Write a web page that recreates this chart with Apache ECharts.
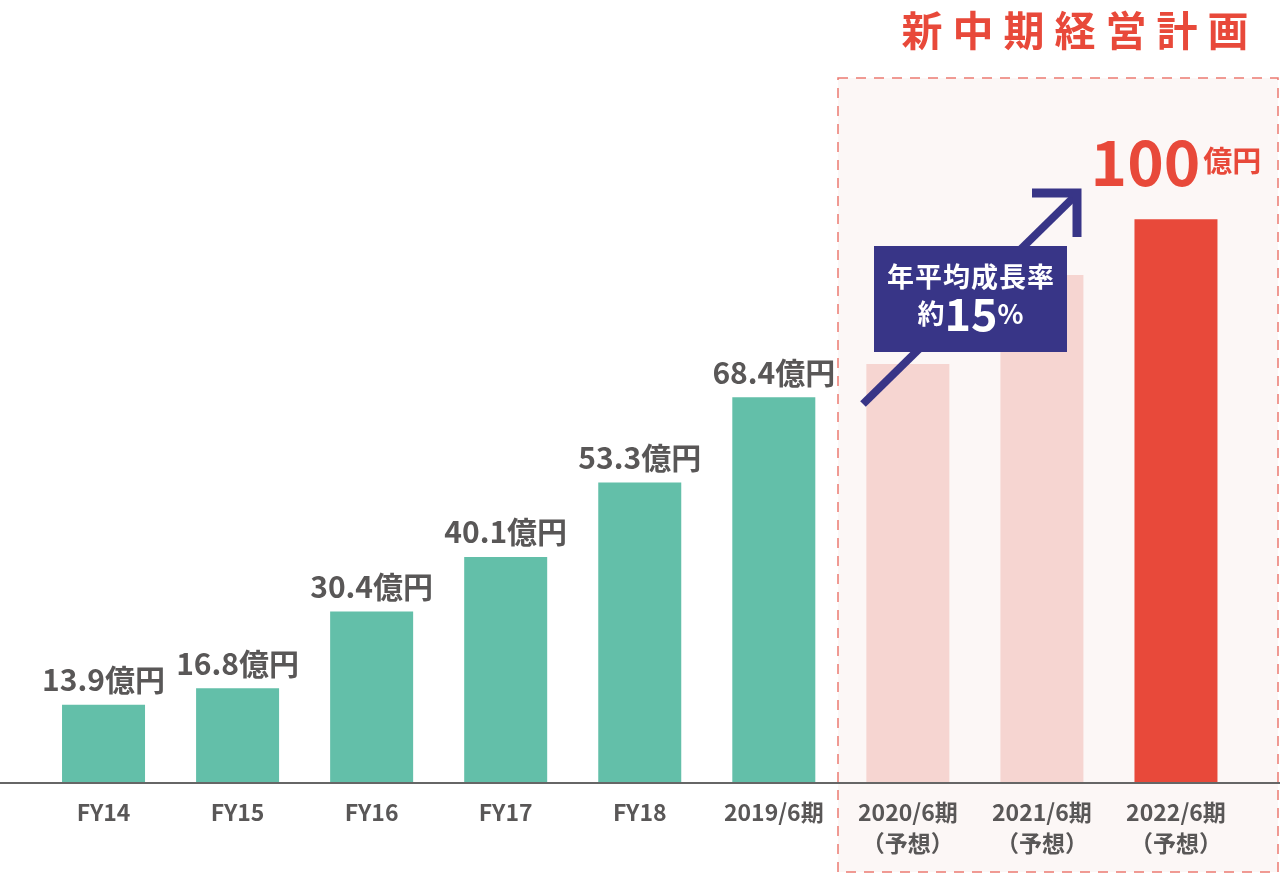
<!DOCTYPE html>
<html>
<head>
<meta charset="utf-8">
<script src="https://cdn.jsdelivr.net/npm/echarts@6/dist/echarts.min.js"></script>
<style>
  html, body { margin: 0; padding: 0; background: #fff; }
  #main { width: 1280px; height: 880px; }
</style>
</head>
<body>
<div id="main"></div>
<script>
// 売上高（億円）
var categories = ['FY14', 'FY15', 'FY16', 'FY17', 'FY18', '2019/6期', '2020/6期\n（予想）', '2021/6期\n（予想）', '2022/6期\n（予想）'];
var actualValues = [13.9, 16.8, 30.4, 40.1, 53.3, 68.4];
var forecastValues = [74.3, 90.1, 100];
var labelUnit = '億円';
var planTitle = '新中期経営計画';
var cagrText = ['年平均成長率', '約', '15', '%'];

var font = '"Noto Sans CJK JP", "Noto Sans", sans-serif';
var green = '#63bfa9', pink = '#f6d5d1', red = '#e8493a', navy = '#383587', gray = '#595757';

var myChart = echarts.init(document.getElementById('main'));

function buildData() {
    var res = [];
    actualValues.forEach(v => {
        res.push({ value: v, itemStyle: { color: green } });
    });
    forecastValues.forEach((v, i) => {
        var last = i === forecastValues.length - 1;
        var item = { value: v, itemStyle: { color: last ? red : pink }, label: { show: last } };
        if (last) {
            item.label = {
                show: true,
                distance: 26,
                formatter: '{big|' + v + '}{unit|' + labelUnit + '}',
                rich: {
                    big: { fontSize: 62, fontWeight: 'bold', color: red, fontFamily: font },
                    unit: { fontSize: 29, fontWeight: 'bold', color: red, fontFamily: font, padding: [0, 0, 3, 3] }
                }
            };
        }
        res.push(item);
    });
    return res;
}

// 字間をあけるため1文字ずつrichで並べる
function spaced(text) {
    return text.split('').map(c => '{c|' + c + '}').join('');
}

var option = {
    animation: false,
    grid: { left: 36.5, right: 37, top: 50, bottom: 97 },
    xAxis: {
        type: 'category',
        data: categories,
        axisTick: { show: false },
        axisLine: { show: false },
        axisLabel: {
            color: gray, fontSize: 23, fontWeight: 'bold', fontFamily: font,
            lineHeight: 31, margin: 14, interval: 0
        }
    },
    yAxis: { type: 'value', min: 0, max: 130, show: false, splitLine: { show: false } },
    series: [{
        type: 'bar',
        data: buildData(),
        barWidth: 83,
        z: 3,
        label: {
            show: true,
            position: 'top',
            distance: 10,
            color: gray,
            fontSize: 30,
            fontWeight: 'bold',
            fontFamily: font,
            formatter: p => p.value + labelUnit
        }
    }],
    graphic: [
        // 新中期経営計画の枠
        {
            type: 'rect', z: 0, silent: true,
            shape: { x: 838, y: 78, width: 440, height: 794 },
            style: { fill: '#fcf7f6', stroke: '#ec7b72', lineWidth: 1.5, lineDash: [10, 8] }
        },
        {
            type: 'text', z: 5, x: 1075, y: 30,
            style: {
                text: spaced(planTitle), align: 'center', verticalAlign: 'middle',
                rich: { c: { fill: red, fontSize: 41, fontWeight: 'bold', fontFamily: font, padding: [0, 5, 0, 5] } }
            }
        },
        // 横軸
        {
            type: 'line', z: 10, silent: true,
            shape: { x1: 0, y1: 783, x2: 1280, y2: 783 },
            style: { stroke: '#666', lineWidth: 2 }
        },
        // 矢印
        {
            type: 'line', z: 10, silent: true,
            shape: { x1: 863, y1: 404, x2: 1075, y2: 196 },
            style: { stroke: navy, lineWidth: 8 }
        },
        {
            type: 'polyline', z: 10, silent: true,
            shape: { points: [[1032, 193], [1077, 193], [1077, 237]] },
            style: { stroke: navy, lineWidth: 9, fill: null, lineJoin: 'miter', lineCap: 'butt' }
        },
        {
            type: 'rect', z: 11, silent: true,
            shape: { x: 874, y: 246, width: 193, height: 106 },
            style: { fill: navy }
        },
        {
            type: 'text', z: 12, x: 970.5, y: 277,
            style: {
                text: spaced(cagrText[0]), align: 'center', verticalAlign: 'middle',
                rich: { c: { fill: '#fff', fontSize: 27, fontWeight: 'bold', fontFamily: font, padding: [0, 0.5, 0, 0.5] } }
            }
        },
        {
            type: 'text', z: 12, x: 970.5, y: 336,
            style: {
                text: '{a|' + cagrText[1] + '}{b|' + cagrText[2] + '}{c|' + cagrText[3] + '}',
                align: 'center', verticalAlign: 'bottom',
                rich: {
                    a: { fill: '#fff', fontSize: 27, fontWeight: 'bold', fontFamily: font },
                    b: { fill: '#fff', fontSize: 45, fontWeight: 'bold', fontFamily: font },
                    c: { fill: '#fff', fontSize: 27, fontWeight: 'bold', fontFamily: font }
                }
            }
        }
    ]
};

myChart.setOption(option);
</script>
</body>
</html>
